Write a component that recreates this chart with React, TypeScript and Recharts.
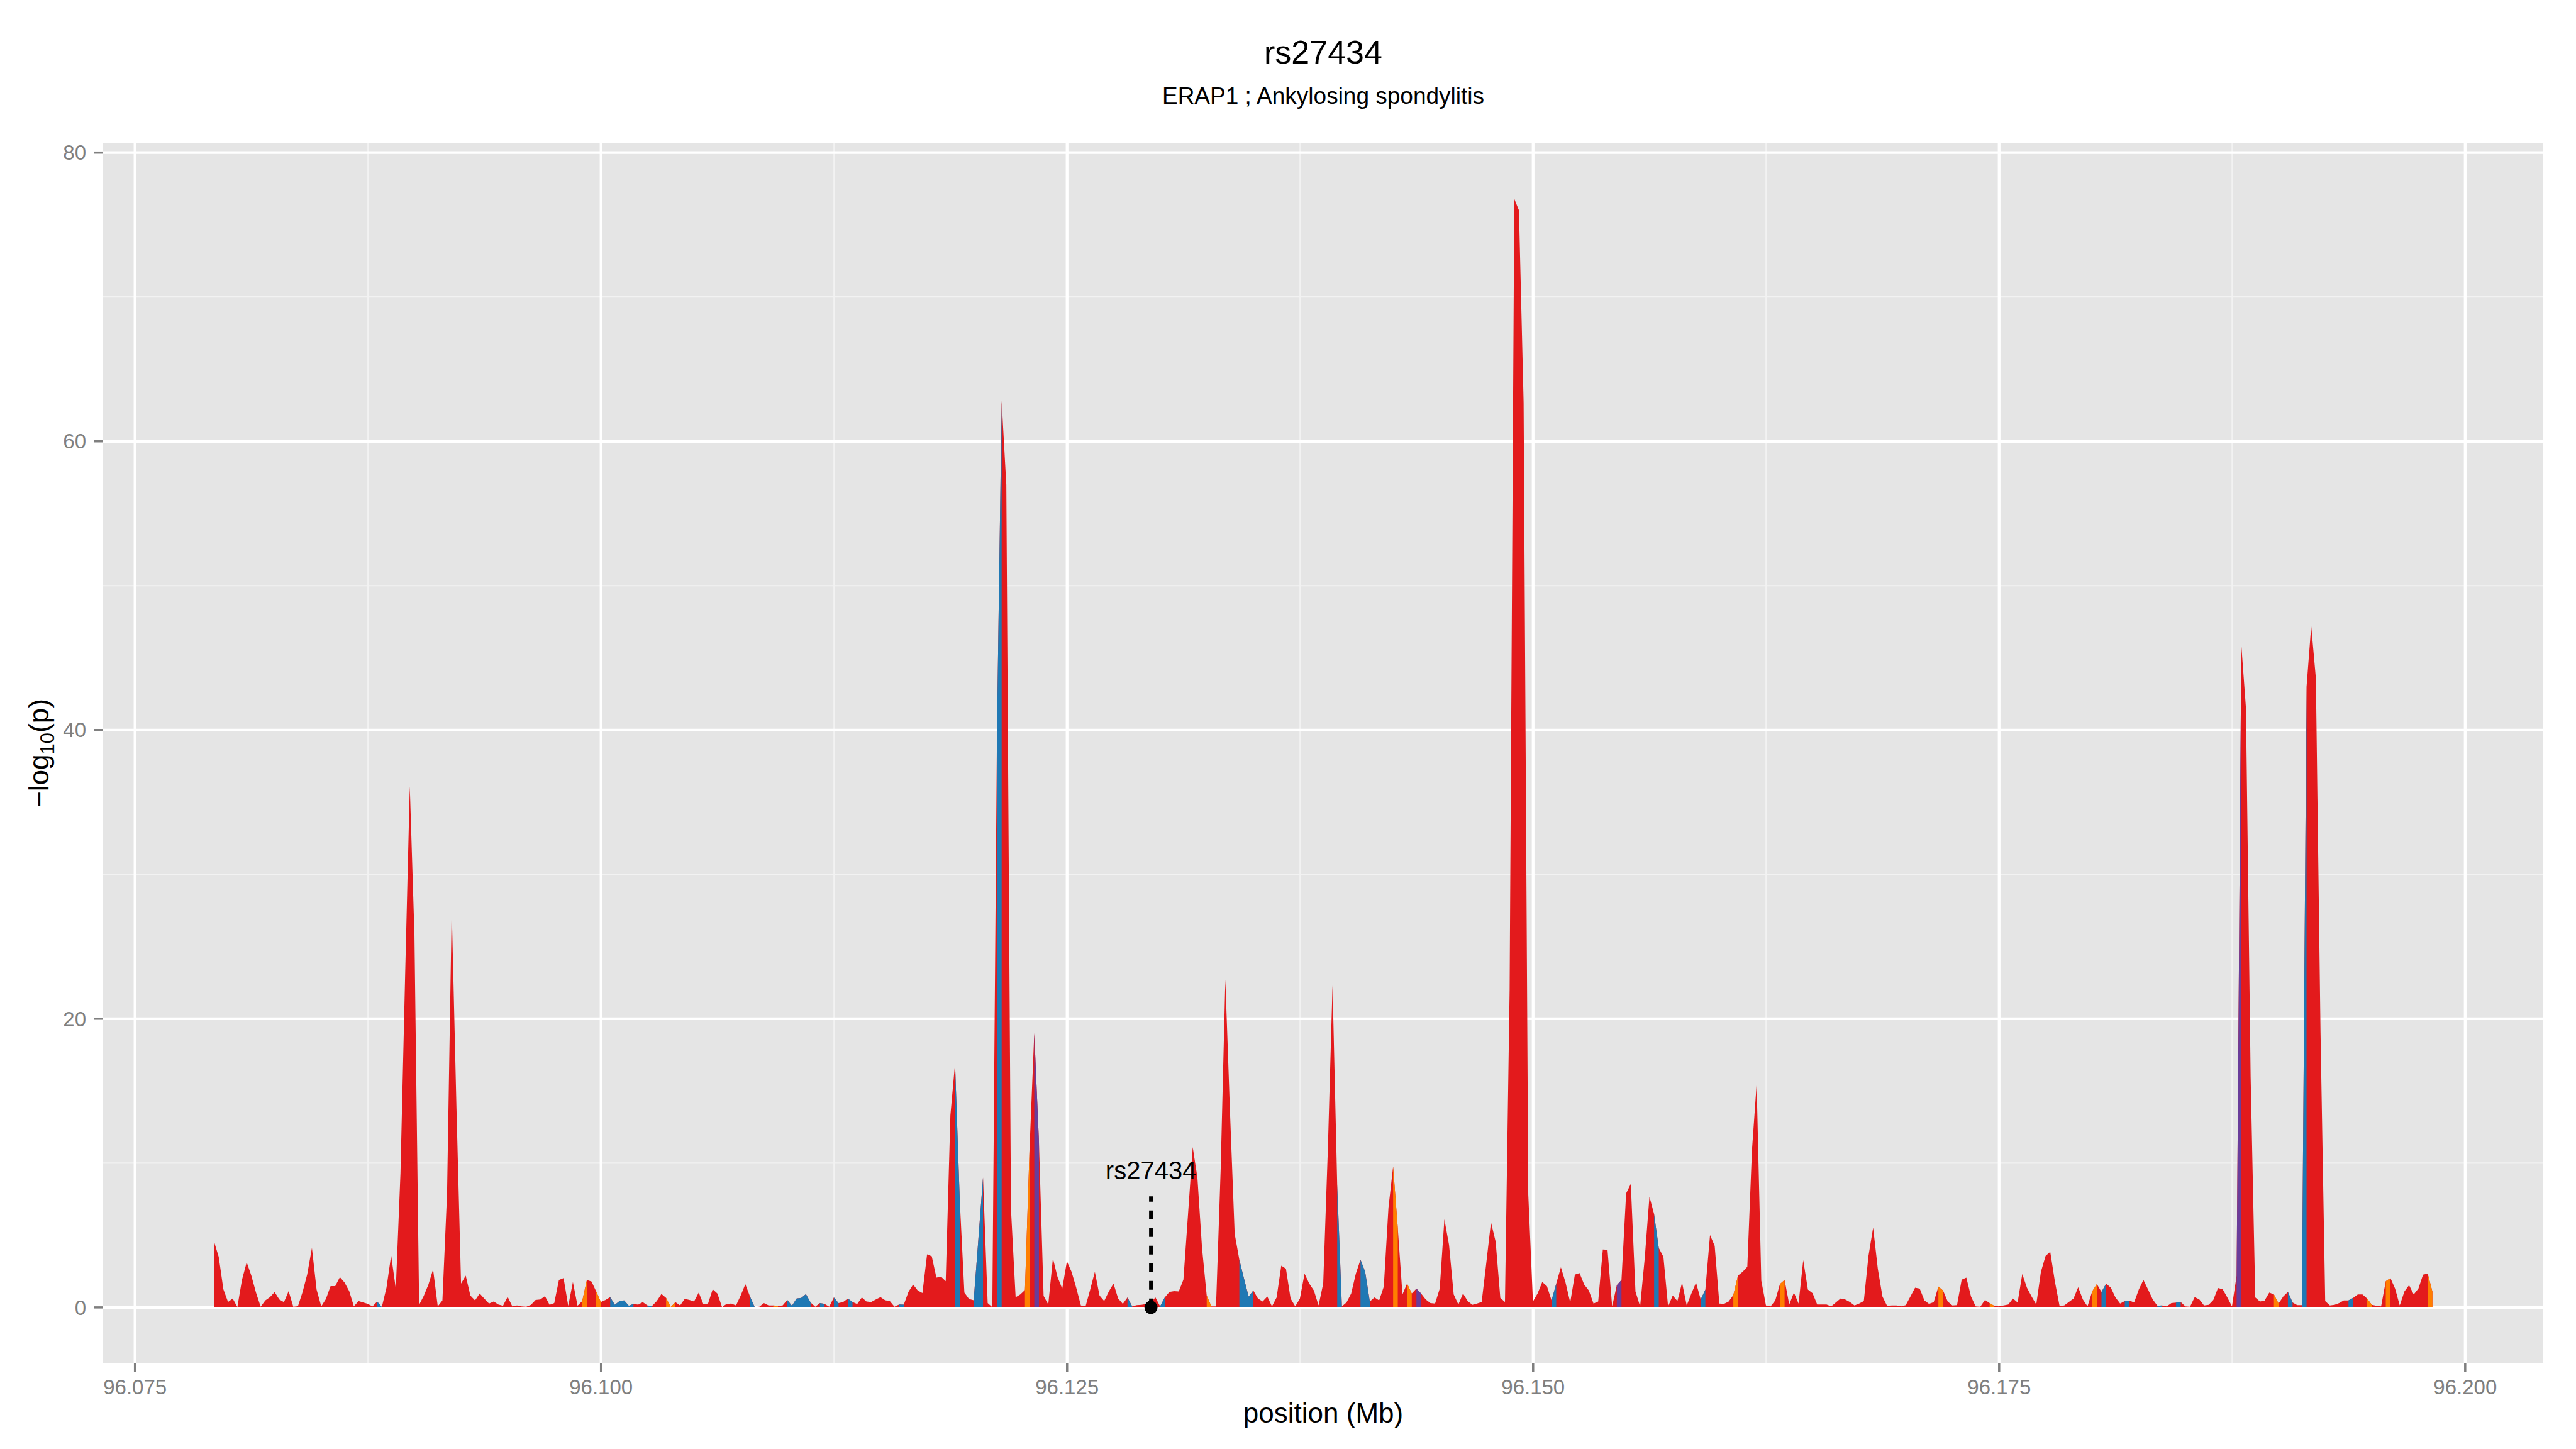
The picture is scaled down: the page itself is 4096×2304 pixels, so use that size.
import { Area, AreaChart, CartesianGrid, ReferenceDot, ReferenceLine, XAxis, YAxis } from "recharts"

// SNPs sit on a regular 250 bp grid starting at 96.07924 Mb
const START_MB = 96.07924
const STEP_MB = 0.00025

// -log10(p) for each SNP, left to right
const logP = [
  4.56, 3.5, 1.26, 0.37, 0.62, 0.03, 1.92, 3.13, 2.2, 1.03, 0.05, 0.48, 0.71, 1.06, 0.55, 0.36, 1.13, 0.05, 0.08, 1.07,
  2.3, 4.12, 1.24, 0.07, 0.58, 1.48, 1.47, 2.1, 1.73, 1.13, 0.07, 0.44, 0.34, 0.25, 0.07, 0.41, 0.03, 1.37, 3.6, 1.3,
  9.3, 23, 36.1, 25.8, 0.18, 0.8, 1.58, 2.64, 0.07, 0.48, 7.9, 27.6, 14, 1.65, 2.2, 0.82, 0.48, 0.96, 0.6, 0.27,
  0.41, 0.2, 0.11, 0.74, 0.07, 0.14, 0.07, 0.05, 0.18, 0.52, 0.55, 0.78, 0.18, 0.3, 1.9, 2.03, 0.1, 1.76, 0.11, 0.44,
  1.9, 1.79, 1.1, 0.38, 0.52, 0.71, 0.18, 0.44, 0.48, 0.11, 0.25, 0.19, 0.36, 0.14, 0.1, 0.44, 0.93, 0.66, 0.03, 0.36,
  0.14, 0.59, 0.52, 0.41, 1.03, 0.22, 0.27, 1.26, 0.96, 0.03, 0.25, 0.27, 0.14, 0.82, 1.61, 0.76, 0.03, 0.05, 0.3, 0.14,
  0.14, 0.1, 0.14, 0.52, 0.11, 0.62, 0.66, 0.92, 0.34, 0.05, 0.3, 0.25, 0.05, 0.69, 0.3, 0.38, 0.62, 0.38, 0.23, 0.69,
  0.41, 0.38, 0.55, 0.71, 0.49, 0.44, 0.05, 0.2, 0.19, 1.07, 1.58, 1.17, 1.0, 3.68, 3.55, 2.06, 2.13, 1.81, 13.3, 16.9,
  7.5, 1.03, 0.58, 0.5, 4.7, 9.0, 0.3, 0.02, 40, 62.8, 57.0, 6.8, 0.7, 0.9, 1.2, 11.1, 19.0, 11.5, 0.8, 0.2,
  3.4, 2.1, 1.3, 3.2, 2.47, 1.37, 0.14, 0.07, 1.24, 2.47, 0.82, 0.44, 1.1, 1.65, 0.62, 0.25, 0.69, 0.07, 0.16, 0.18,
  0.23, 0.34, 0.69, 0.07, 0.69, 1.07, 1.13, 1.1, 1.92, 6.5, 11.1, 9.0, 4.1, 0.82, 0.07, 0.07, 9.6, 22.7, 13.5, 5.1,
  3.3, 2.0, 0.75, 1.17, 0.62, 0.41, 0.76, 0.07, 0.69, 2.89, 2.68, 0.62, 0.07, 0.62, 2.34, 1.65, 1.17, 0.14, 1.65, 11,
  22.3, 8.5, 0.07, 0.34, 0.96, 2.34, 3.3, 2.47, 0.41, 0.69, 0.48, 1.44, 6.9, 9.76, 5.5, 0.9, 1.65, 0.96, 1.3, 0.96,
  0.55, 0.3, 0.27, 1.3, 6.1, 4.33, 0.9, 0.2, 0.96, 0.44, 0.18, 0.27, 0.37, 3.1, 5.9, 4.56, 0.66, 0.38, 22, 76.8,
  76.0, 62.7, 7.8, 0.41, 0.96, 1.76, 1.47, 0.48, 1.65, 2.78, 1.72, 0.34, 2.27, 2.38, 1.58, 1.17, 0.27, 0.41, 4.01, 3.99,
  0.07, 1.54, 1.9, 7.9, 8.55, 1.1, 0.07, 3.44, 7.67, 6.46, 4.12, 3.5, 0.07, 0.82, 0.44, 1.72, 0.14, 0.96, 1.72, 0.55,
  1.24, 5.02, 4.26, 0.27, 0.25, 0.41, 0.85, 2.2, 2.47, 2.82, 10.9, 15.46, 1.86, 0.14, 0.07, 0.48, 1.62, 1.9, 0.2, 1.03,
  0.27, 3.27, 1.24, 0.99, 0.2, 0.2, 0.2, 0.07, 0.34, 0.62, 0.55, 0.38, 0.14, 0.27, 0.44, 3.57, 5.53, 2.68, 0.76, 0.1,
  0.14, 0.14, 0.07, 0.16, 0.76, 1.37, 1.3, 0.48, 0.25, 0.36, 1.44, 1.17, 0.41, 0.14, 0.16, 1.92, 2.06, 0.76, 0.07, 0.05,
  0.52, 0.3, 0.1, 0.07, 0.14, 0.2, 0.62, 0.34, 2.31, 1.37, 0.76, 0.2, 2.47, 3.57, 3.85, 1.79, 0.1, 0.14, 0.38, 0.62,
  1.4, 0.55, 0.07, 1.1, 1.62, 1.07, 1.65, 1.37, 0.69, 0.27, 0.44, 0.47, 0.34, 1.24, 1.9, 1.24, 0.55, 0.11, 0.14, 0.07,
  0.3, 0.33, 0.38, 0.07, 0.05, 0.71, 0.55, 0.14, 0.18, 0.52, 1.35, 1.26, 0.69, 0.07, 2.2, 45.9, 41.5, 16, 0.69, 0.41,
  0.47, 1.03, 0.9, 0.27, 0.76, 1.07, 0.34, 0.16, 0.16, 43, 47.2, 43.6, 19, 0.44, 0.14, 0.18, 0.3, 0.48, 0.48, 0.66,
  0.9, 0.9, 0.62, 0.18, 0.11, 0.07, 1.81, 2.03, 1.3, 0.14, 1.1, 1.54, 0.9, 1.3, 2.27, 2.34, 1.1,
]

// runs of SNP indices (inclusive) drawn in the other LD colours
const blueRuns = [
  [35, 36], [85, 90], [93, 94], [115, 116], [123, 128], [130, 131], [133, 134], [136, 137], [147, 148],
  [159, 160], [163, 165], [168, 169], [196, 197], [203, 204], [220, 223], [241, 242], [246, 248], [287, 288],
  [309, 310], [319, 320], [405, 406], [410, 411], [417, 418], [421, 422], [445, 446], [448, 449], [458, 459],
]
const orangeRuns = [
  [79, 80], [82, 83], [97, 99], [120, 121], [174, 175], [213, 214], [253, 254], [256, 257], [326, 327],
  [336, 337], [370, 371], [381, 382], [403, 404], [442, 443], [462, 463], [466, 467], [475, 476],
]
const purpleRuns = [[176, 177], [258, 259], [301, 302], [434, 435]]

const xTicks = [96.075, 96.1, 96.125, 96.15, 96.175, 96.2]
const xMinor = [96.0875, 96.1125, 96.1375, 96.1625, 96.1875]
const yTicks = [0, 20, 40, 60, 80]
const yMinor = [10, 30, 50, 70]

const SNP_NAME = "rs27434"
const SNP_POS = 96.1295
const SNP_LINE_TOP = 7.7
const SNP_LABEL_Y = 8.9

const inRuns = (runs: number[][], i: number) => runs.some(([a, b]) => i >= a && i <= b)

const rows = logP.map((v, i) => ({
  pos: START_MB + i * STEP_MB,
  red: v,
  blue: inRuns(blueRuns, i) ? v : null,
  orange: inRuns(orangeRuns, i) ? v : null,
  purple: inRuns(purpleRuns, i) ? v : null,
}))

const W = 4096
const H = 2304
const PANEL = { left: 164, top: 228, right: 4044, bottom: 2167 }
const Y_AXIS_W = 80
const X_AXIS_H = 60
const FONT = '"Liberation Sans", Arial, Helvetica, sans-serif'
const AXIS_GREY = "#7F7F7F"

export default function App() {
  const cx = (PANEL.left + PANEL.right) / 2
  const cy = (PANEL.top + PANEL.bottom) / 2
  return (
    <div style={{ position: "fixed", left: 0, top: 0, width: W, height: H, background: "#fff" }}>
      <AreaChart
        width={W}
        height={H}
        data={rows}
        margin={{
          top: PANEL.top,
          right: W - PANEL.right,
          bottom: H - PANEL.bottom - X_AXIS_H,
          left: PANEL.left - Y_AXIS_W,
        }}
      >
        <CartesianGrid fill="#E5E5E5" stroke="#F2F2F2" strokeWidth={2.2} verticalValues={xMinor} horizontalValues={yMinor} />
        <CartesianGrid stroke="#FFFFFF" strokeWidth={4.3} verticalValues={xTicks} horizontalValues={yTicks} />
        <XAxis
          dataKey="pos"
          type="number"
          domain={[96.07329, 96.20419]}
          allowDataOverflow
          ticks={xTicks}
          interval={0}
          tickFormatter={(v) => v.toFixed(3)}
          height={X_AXIS_H}
          axisLine={false}
          tickLine={{ stroke: AXIS_GREY, strokeWidth: 3.5 }}
          tickSize={15}
          tickMargin={12}
          tick={{ fill: AXIS_GREY, fontSize: 33, fontFamily: FONT }}
        />
        <YAxis
          type="number"
          domain={[-3.84, 80.64]}
          allowDataOverflow
          ticks={yTicks}
          interval={0}
          width={Y_AXIS_W}
          axisLine={false}
          tickLine={{ stroke: AXIS_GREY, strokeWidth: 3.5 }}
          tickSize={15}
          tickMargin={12}
          tick={{ fill: AXIS_GREY, fontSize: 33, fontFamily: FONT }}
        />
        <Area type="linear" dataKey="red" fill="#E31A1C" fillOpacity={1} stroke="none" baseValue={0} isAnimationActive={false} />
        <Area type="linear" dataKey="blue" fill="#1F78B4" fillOpacity={1} stroke="none" baseValue={0} isAnimationActive={false} />
        <Area type="linear" dataKey="orange" fill="#FF7F00" fillOpacity={1} stroke="none" baseValue={0} isAnimationActive={false} />
        <Area type="linear" dataKey="purple" fill="#6A3D9A" fillOpacity={1} stroke="none" baseValue={0} isAnimationActive={false} />
        <ReferenceLine
          segment={[{ x: SNP_POS, y: 0 }, { x: SNP_POS, y: SNP_LINE_TOP }]}
          stroke="#000"
          strokeWidth={6}
          strokeDasharray="14 14"
        />
        <ReferenceDot x={SNP_POS} y={0} r={10.5} fill="#000" stroke="none" />
        <ReferenceDot
          x={SNP_POS}
          y={SNP_LABEL_Y}
          r={1}
          shape={(p: any) => (
            <text x={p.cx} y={p.cy} textAnchor="middle" fontSize={40} fontFamily={FONT} fill="#000">
              {SNP_NAME}
            </text>
          )}
        />
      </AreaChart>
      <svg width={W} height={H} style={{ position: "absolute", left: 0, top: 0, pointerEvents: "none" }}>
        <text x={cx} y={101} textAnchor="middle" fontSize={52} fontFamily={FONT} fill="#000">
          rs27434
        </text>
        <text x={cx} y={165} textAnchor="middle" fontSize={37} fontFamily={FONT} fill="#000">
          ERAP1 ; Ankylosing spondylitis
        </text>
        <text x={cx} y={2262} textAnchor="middle" fontSize={44} fontFamily={FONT} fill="#000">
          position (Mb)
        </text>
        <text transform={`translate(77, ${cy}) rotate(-90)`} textAnchor="middle" fontSize={44} fontFamily={FONT} fill="#000">
          −log
          <tspan fontSize={31} dy={9}>10</tspan>
          <tspan dy={-9}>(p)</tspan>
        </text>
      </svg>
    </div>
  )
}
